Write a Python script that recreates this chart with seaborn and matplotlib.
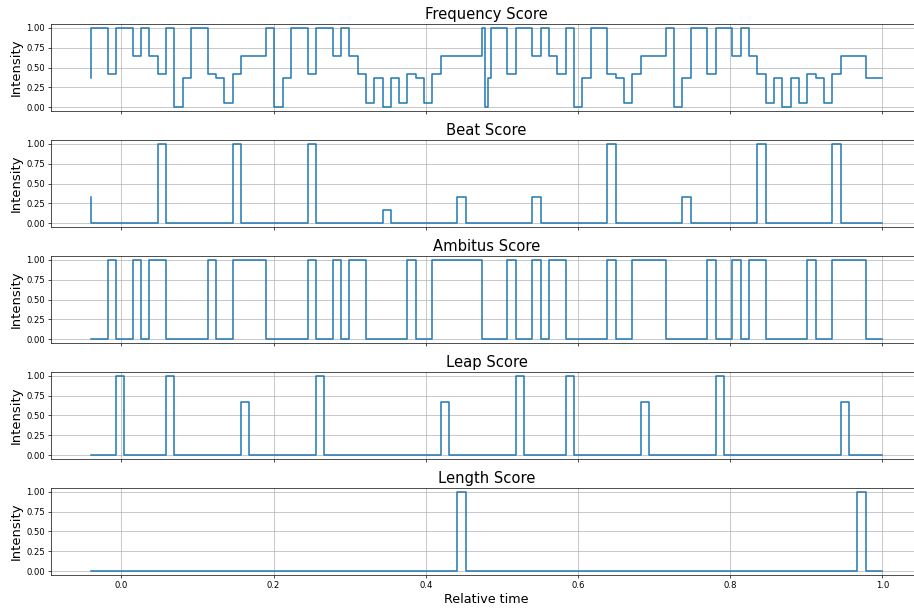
import numpy as np
import matplotlib
matplotlib.use("Agg")
import matplotlib.pyplot as plt
import seaborn as sns

# ---- data -------------------------------------------------------------
TIME_START = -0.04
TIME_END = 1.0
N_UNITS = 95  # number of time units spanning the excerpt

titles = ["Frequency Score", "Beat Score", "Ambitus Score", "Leap Score", "Length Score"]

# breakpoints (in time units) and value of the step ending at each breakpoint
freq_t = [0, 2, 3, 5, 6, 7, 8, 9, 10, 11, 12, 14, 15, 16, 17, 18, 21, 22, 23, 24,
          26, 27, 29, 30, 31, 32, 33, 34, 35, 36, 37, 38, 39, 40, 41, 42, 47, 47.33, 47.67, 48,
          50, 51, 53, 54, 55, 56, 57, 58, 59, 60, 62, 63, 64, 65, 66, 69, 70, 71, 72, 74,
          75, 77, 78, 79, 80, 81, 82, 83, 84, 85, 86, 87, 88, 89, 90, 93, 95]
freq_v = [0.364, 1.0, 0.419, 1.0, 0.647, 1.0, 0.647, 0.419, 1.0, 0.0,
          0.364, 1.0, 0.419, 0.364, 0.055, 0.419, 0.647, 1.0, 0.0, 0.364,
          1.0, 0.419, 1.0, 0.647, 1.0, 0.647, 0.419, 0.055, 0.364, 0.0,
          0.364, 0.055, 0.419, 0.364, 0.055, 0.419, 0.647, 1.0, 0.0, 0.364,
          1.0, 0.419, 1.0, 0.647, 1.0, 0.647, 0.419, 1.0, 0.0, 0.364,
          1.0, 0.419, 0.364, 0.055, 0.419, 0.647, 1.0, 0.0, 0.364, 1.0,
          0.419, 1.0, 0.647, 1.0, 0.647, 0.419, 0.055, 0.364, 0.0, 0.364,
          0.055, 0.419, 0.364, 0.055, 0.419, 0.647, 0.364]

beat_t = [0, 8, 9, 17, 18, 26, 27, 35, 36, 44, 45, 53, 54, 62, 63, 71, 72, 80, 81, 89, 90, 95]
beat_v = [0.333, 0.0, 1.0, 0.0, 1.0, 0.0, 1.0, 0.0, 0.167, 0.0, 0.333,
          0.0, 0.333, 0.0, 1.0, 0.0, 0.333, 0.0, 1.0, 0.0, 1.0, 0.0]

amb_t = [0, 2, 3, 5, 6, 7, 9, 14, 15, 17, 21, 26, 27, 29, 30, 31, 33, 38, 39, 41,
         47, 50, 51, 53, 54, 55, 57, 62, 63, 65, 69, 74, 75, 77, 78, 79, 81, 86, 87, 89,
         93, 95]
amb_v = [0, 0, 1, 0, 1, 0, 1, 0, 1, 0, 1, 0, 1, 0, 1, 0, 1, 0, 1, 0,
         1, 0, 1, 0, 1, 0, 1, 0, 1, 0, 1, 0, 1, 0, 1, 0, 1, 0, 1, 0,
         1, 0]

leap_t = [0, 3, 4, 9, 10, 18, 19, 27, 28, 42, 43, 51, 52, 57, 58, 66, 67, 75, 76, 90, 91, 95]
leap_v = [0.0, 0.0, 1.0, 0.0, 1.0, 0.0, 0.667, 0.0, 1.0, 0.0, 0.667,
          0.0, 1.0, 0.0, 1.0, 0.0, 0.667, 0.0, 1.0, 0.0, 0.667, 0.0]

len_t = [0, 44, 45, 92, 93, 95]
len_v = [0.0, 0.0, 1.0, 0.0, 1.0, 0.0]

series = [(freq_t, freq_v), (beat_t, beat_v), (amb_t, amb_v), (leap_t, leap_v), (len_t, len_v)]

# ---- plot -------------------------------------------------------------
unit = (TIME_END - TIME_START) / N_UNITS
DPI = 61

fig, axes = plt.subplots(5, 1, figsize=(914 / DPI, 608 / DPI), dpi=DPI, sharex=True)
fig.subplots_adjust(left=0.0561, right=1.0088, bottom=0.0543, top=0.9605, hspace=0.333)

for ax, title, (t, v) in zip(axes, titles, series):
    x = TIME_START + np.asarray(t, dtype=float) * unit
    sns.lineplot(x=x, y=np.asarray(v, dtype=float), ax=ax, drawstyle="steps-pre",
                 color="#1f77b4", linewidth=1.8, estimator=None, sort=False)
    ax.set_title(title, fontsize=17.4)
    ax.set_ylabel("Intensity", fontsize=15.5)
    ax.set_yticks([0.0, 0.25, 0.5, 0.75, 1.0])
    ax.tick_params(labelsize=10)
    ax.grid(True)
    ax.set_xlabel("")

axes[-1].set_xticks([0.0, 0.2, 0.4, 0.6, 0.8, 1.0])
axes[-1].set_xlabel("Relative time", fontsize=15)

fig.savefig("out.png", dpi=DPI)
